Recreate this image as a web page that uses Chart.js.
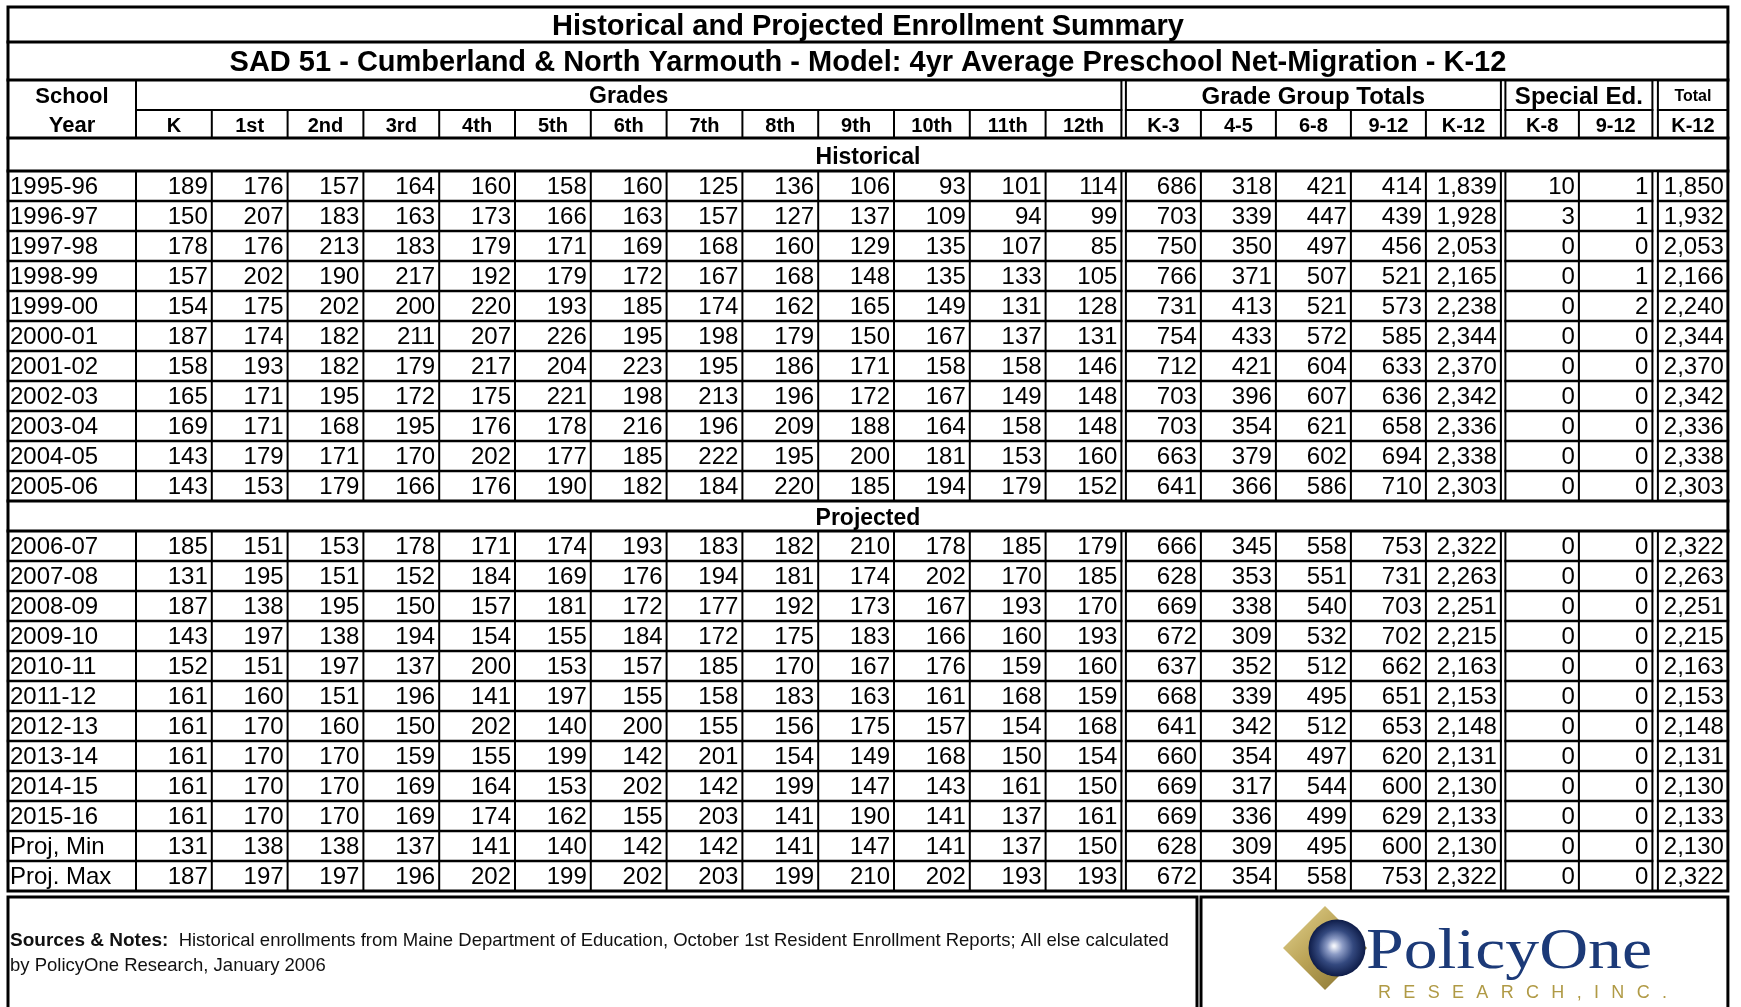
<!DOCTYPE html>
<html>
<head>
<meta charset="utf-8">
<title>Historical and Projected Enrollment Summary</title>
<script src="https://cdn.jsdelivr.net/npm/chart.js@4.4.1/dist/chart.umd.min.js"></script>
<style>
    html, body { margin: 0; padding: 0; background: #fff; }
    canvas { display: block; }
</style>
</head>
<body>
<canvas id="enrollmentTable" width="1741" height="1007" style="width:1741px;height:1007px"></canvas>
<script>
// ---- table text ----
const titleText = 'Historical and Projected Enrollment Summary';
const subtitleText = 'SAD 51 - Cumberland & North Yarmouth - Model: 4yr Average Preschool Net-Migration - K-12';
const gradeLabels = ['K', '1st', '2nd', '3rd', '4th', '5th', '6th', '7th', '8th', '9th', '10th', '11th', '12th'];
const groupLabels = ['K-3', '4-5', '6-8', '9-12', 'K-12'];
const specialLabels = ['K-8', '9-12'];
const totalLabels = ['K-12'];

// ---- historical ----
const historicalYears = ['1995-96', '1996-97', '1997-98', '1998-99', '1999-00', '2000-01',
    '2001-02', '2002-03', '2003-04', '2004-05', '2005-06'];
const historicalGrades = [
    [189, 176, 157, 164, 160, 158, 160, 125, 136, 106, 93, 101, 114],
    [150, 207, 183, 163, 173, 166, 163, 157, 127, 137, 109, 94, 99],
    [178, 176, 213, 183, 179, 171, 169, 168, 160, 129, 135, 107, 85],
    [157, 202, 190, 217, 192, 179, 172, 167, 168, 148, 135, 133, 105],
    [154, 175, 202, 200, 220, 193, 185, 174, 162, 165, 149, 131, 128],
    [187, 174, 182, 211, 207, 226, 195, 198, 179, 150, 167, 137, 131],
    [158, 193, 182, 179, 217, 204, 223, 195, 186, 171, 158, 158, 146],
    [165, 171, 195, 172, 175, 221, 198, 213, 196, 172, 167, 149, 148],
    [169, 171, 168, 195, 176, 178, 216, 196, 209, 188, 164, 158, 148],
    [143, 179, 171, 170, 202, 177, 185, 222, 195, 200, 181, 153, 160],
    [143, 153, 179, 166, 176, 190, 182, 184, 220, 185, 194, 179, 152]
];
const historicalGroups = [
    [686, 318, 421, 414, 1839],
    [703, 339, 447, 439, 1928],
    [750, 350, 497, 456, 2053],
    [766, 371, 507, 521, 2165],
    [731, 413, 521, 573, 2238],
    [754, 433, 572, 585, 2344],
    [712, 421, 604, 633, 2370],
    [703, 396, 607, 636, 2342],
    [703, 354, 621, 658, 2336],
    [663, 379, 602, 694, 2338],
    [641, 366, 586, 710, 2303]
];
const historicalSpecial = [[10, 1], [3, 1], [0, 0], [0, 1], [0, 2], [0, 0], [0, 0], [0, 0], [0, 0], [0, 0], [0, 0]];
const historicalTotal = [1850, 1932, 2053, 2166, 2240, 2344, 2370, 2342, 2336, 2338, 2303];

// ---- projected ----
const projectedYears = ['2006-07', '2007-08', '2008-09', '2009-10', '2010-11', '2011-12',
    '2012-13', '2013-14', '2014-15', '2015-16', 'Proj, Min', 'Proj. Max'];
const projectedGrades = [
    [185, 151, 153, 178, 171, 174, 193, 183, 182, 210, 178, 185, 179],
    [131, 195, 151, 152, 184, 169, 176, 194, 181, 174, 202, 170, 185],
    [187, 138, 195, 150, 157, 181, 172, 177, 192, 173, 167, 193, 170],
    [143, 197, 138, 194, 154, 155, 184, 172, 175, 183, 166, 160, 193],
    [152, 151, 197, 137, 200, 153, 157, 185, 170, 167, 176, 159, 160],
    [161, 160, 151, 196, 141, 197, 155, 158, 183, 163, 161, 168, 159],
    [161, 170, 160, 150, 202, 140, 200, 155, 156, 175, 157, 154, 168],
    [161, 170, 170, 159, 155, 199, 142, 201, 154, 149, 168, 150, 154],
    [161, 170, 170, 169, 164, 153, 202, 142, 199, 147, 143, 161, 150],
    [161, 170, 170, 169, 174, 162, 155, 203, 141, 190, 141, 137, 161],
    [131, 138, 138, 137, 141, 140, 142, 142, 141, 147, 141, 137, 150],
    [187, 197, 197, 196, 202, 199, 202, 203, 199, 210, 202, 193, 193]
];
const projectedGroups = [
    [666, 345, 558, 753, 2322],
    [628, 353, 551, 731, 2263],
    [669, 338, 540, 703, 2251],
    [672, 309, 532, 702, 2215],
    [637, 352, 512, 662, 2163],
    [668, 339, 495, 651, 2153],
    [641, 342, 512, 653, 2148],
    [660, 354, 497, 620, 2131],
    [669, 317, 544, 600, 2130],
    [669, 336, 499, 629, 2133],
    [628, 309, 495, 600, 2130],
    [672, 354, 558, 753, 2322]
];
const projectedSpecial = [[0, 0], [0, 0], [0, 0], [0, 0], [0, 0], [0, 0], [0, 0], [0, 0], [0, 0], [0, 0], [0, 0], [0, 0]];
const projectedTotal = [2322, 2263, 2251, 2215, 2163, 2153, 2148, 2131, 2130, 2133, 2130, 2322];

const notesLabel = 'Sources & Notes:';
const notesLine1 = 'Historical enrollments from Maine Department of Education, October 1st Resident Enrollment Reports; All else calculated';
const notesLine2 = 'by PolicyOne Research, January 2006';

// ---- layout (table units) ----
const yearColW = 128, gradeColW = 75.8, groupColW = 75, specialColW = 73.5, totalColW = 70;
const doubleGap = 4.5;
const titleH = 35, subtitleH = 38, head1H = 30, head2H = 28, sectionH = 33, rowH = 30;
const SANS = '"Liberation Sans", Arial, Helvetica, sans-serif';
const SERIF = '"Liberation Serif", "Times New Roman", serif';

// column edges
let columns = [];
let cur = yearColW;
let blocks = [];
function addBlock(labels, w) {
    let start = cur;
    labels.forEach(function (l) {
        columns.push({label: l, left: cur, right: cur + w});
        cur += w;
    });
    blocks.push({start: start, end: cur});
}
addBlock(gradeLabels, gradeColW);
cur += doubleGap;
addBlock(groupLabels, groupColW);
cur += doubleGap;
addBlock(specialLabels, specialColW);
cur += doubleGap + 1;
addBlock(totalLabels, totalColW);
const tableW = cur;

// row bands
const yTitle = 0;
const ySub = yTitle + titleH;
const yHead1 = ySub + subtitleH;
const yHead2 = yHead1 + head1H;
const yHist = yHead2 + head2H;
const yHistRows = yHist + sectionH;
const yProj = yHistRows + historicalYears.length * rowH;
const yProjRows = yProj + rowH;
const tableH = yProjRows + projectedYears.length * rowH;

function rowValues(grades, groups, special, total, i) {
    return grades[i].concat(groups[i], special[i], [total[i]]);
}

function drawTable(chart) {
    const ctx = chart.ctx;
    const xs = chart.scales.x, ys = chart.scales.y;
    const X = u => xs.getPixelForValue(u);
    const Y = v => ys.getPixelForValue(v);

    ctx.save();
    ctx.fillStyle = '#000';
    ctx.strokeStyle = '#000';
    ctx.textBaseline = 'middle';

    function text(s, u, v, align, font) {
        ctx.font = font;
        ctx.textAlign = align;
        ctx.fillText(s, X(u), Y(v));
    }

    // titles
    text(titleText, tableW / 2, yTitle + titleH / 2 + 2, 'center', 'bold 29px ' + SANS);
    text(subtitleText, tableW / 2, ySub + subtitleH / 2 + 2, 'center', 'bold 29px ' + SANS);

    // header row 1
    text('School', yearColW / 2, yHead1 + head1H / 2 + 2, 'center', 'bold 22px ' + SANS);
    text('Year', yearColW / 2, yHead2 + head2H / 2 + 2, 'center', 'bold 22px ' + SANS);
    const blockTitles = [['Grades', 'bold 23px '], ['Grade Group Totals', 'bold 24px '],
        ['Special Ed.', 'bold 24px '], ['Total', 'bold 16px ']];
    blocks.forEach(function (b, i) {
        text(blockTitles[i][0], (b.start + b.end) / 2, yHead1 + head1H / 2 + 2, 'center', blockTitles[i][1] + SANS);
    });
    // header row 2
    columns.forEach(function (c) {
        text(c.label, (c.left + c.right) / 2, yHead2 + head2H / 2 + 2, 'center', 'bold 20px ' + SANS);
    });

    // section rows
    text('Historical', tableW / 2, yHist + sectionH / 2 + 3, 'center', 'bold 23px ' + SANS);
    text('Projected', tableW / 2, yProj + rowH / 2 + 3, 'center', 'bold 23px ' + SANS);

    // data rows
    function drawRows(years, grades, groups, special, total, top) {
        years.forEach(function (yr, i) {
            const mid = top + i * rowH + rowH / 2 + 1;
            text(yr, 2, mid, 'left', '24px ' + SANS);
            rowValues(grades, groups, special, total, i).forEach(function (val, j) {
                text(val.toLocaleString('en-US'), columns[j].right - 4, mid, 'right', '24px ' + SANS);
            });
        });
    }
    drawRows(historicalYears, historicalGrades, historicalGroups, historicalSpecial, historicalTotal, yHistRows);
    drawRows(projectedYears, projectedGrades, projectedGroups, projectedSpecial, projectedTotal, yProjRows);

    // lines
    ctx.lineCap = 'square';
    function hLine(u0, u1, v, w) {
        ctx.lineWidth = w;
        ctx.beginPath();
        ctx.moveTo(X(u0), Y(v));
        ctx.lineTo(X(u1), Y(v));
        ctx.stroke();
    }
    function vLine(u, v0, v1, w) {
        ctx.lineWidth = w;
        ctx.beginPath();
        ctx.moveTo(X(u), Y(v0));
        ctx.lineTo(X(u), Y(v1));
        ctx.stroke();
    }

    [ySub, yHead1, yHist, yHistRows, yProj, yProjRows].forEach(v => hLine(0, tableW, v, 3));
    hLine(yearColW, tableW, yHead2, 2);
    for (let i = 1; i < historicalYears.length; i++) hLine(0, tableW, yHistRows + i * rowH, 2.5);
    for (let i = 1; i < projectedYears.length; i++) hLine(0, tableW, yProjRows + i * rowH, 2.5);

    const sections = [[yHead1, yHist], [yHistRows, yProj], [yProjRows, tableH]];
    sections.forEach(function (s, k) {
        vLine(yearColW, s[0], s[1], 2);
        const innerTop = k === 0 ? yHead2 : s[0];
        blocks.forEach(function (b) {
            columns.forEach(function (c) {
                if (c.left > b.start && c.left < b.end) vLine(c.left, innerTop, s[1], 2);
            });
        });
        // double rules between blocks
        for (let i = 0; i < blocks.length - 1; i++) {
            const a = blocks[i].end, b2 = blocks[i + 1].start;
            ctx.fillStyle = '#fff';
            ctx.fillRect(X(a) + 1, Y(s[0]) + 1.5, X(b2) - X(a) - 2, Y(s[1]) - Y(s[0]) - 3);
            ctx.fillStyle = '#000';
            vLine(a, s[0], s[1], 2);
            vLine(b2, s[0], s[1], 2);
        }
    });

    ctx.lineWidth = 3;
    ctx.strokeRect(X(0), Y(0), X(tableW) - X(0), Y(tableH) - Y(0));

    // notes box and logo box
    const area = chart.chartArea;
    const nTop = area.bottom + 6;
    const split = X(1189), logoLeft = X(1193);
    ctx.lineWidth = 3;
    ctx.strokeRect(X(0), nTop, split - X(0), 140);
    ctx.strokeRect(logoLeft, nTop, X(tableW) - logoLeft, 140);

    ctx.textAlign = 'left';
    ctx.fillStyle = '#111';
    ctx.font = 'bold 19px ' + SANS;
    ctx.fillText(notesLabel, X(2), nTop + 44);
    const lw = ctx.measureText(notesLabel).width;
    ctx.font = '18.5px ' + SANS;
    ctx.fillText(notesLine1, X(2) + lw + 2 * ctx.measureText(' ').width, nTop + 44);
    ctx.fillText(notesLine2, X(2), nTop + 69);

    drawLogo(ctx, logoLeft, nTop);
    ctx.restore();
}

function drawLogo(ctx, left, top) {
    // diamond
    const dx = left + 124, dy = top + 51, dr = 42;
    let g = ctx.createLinearGradient(dx - dr, dy - dr, dx + dr, dy + dr);
    g.addColorStop(0, '#e6d694');
    g.addColorStop(0.45, '#bba457');
    g.addColorStop(1, '#7d6a2a');
    ctx.fillStyle = g;
    ctx.beginPath();
    ctx.moveTo(dx, dy - dr);
    ctx.lineTo(dx + dr, dy);
    ctx.lineTo(dx, dy + dr);
    ctx.lineTo(dx - dr, dy);
    ctx.closePath();
    ctx.fill();

    // sphere
    const cx = left + 136, cy = top + 51, r = 28.5;
    g = ctx.createRadialGradient(cx - 3, cy - 2, 1, cx, cy, r);
    g.addColorStop(0, '#f2f4fa');
    g.addColorStop(0.25, '#8d9cc6');
    g.addColorStop(0.6, '#34497f');
    g.addColorStop(1, '#0e1c48');
    ctx.fillStyle = g;
    ctx.beginPath();
    ctx.arc(cx, cy, r, 0, Math.PI * 2);
    ctx.fill();

    // PolicyOne
    ctx.fillStyle = '#1c3a78';
    ctx.font = '56px ' + SERIF;
    ctx.textAlign = 'left';
    ctx.textBaseline = 'alphabetic';
    const word = 'PolicyOne';
    const ww = ctx.measureText(word).width;
    ctx.save();
    ctx.translate(left + 165, top + 71);
    ctx.scale(286 / ww, 1);
    ctx.fillText(word, 0, 0);
    ctx.restore();

    // RESEARCH,INC.
    ctx.fillStyle = '#b09a45';
    ctx.font = '18px ' + SANS;
    ctx.textBaseline = 'middle';
    const chars = 'RESEARCH,INC.'.split('');
    const base = chars.reduce((s, ch) => s + ctx.measureText(ch).width, 0);
    const gap = (289 - base) / (chars.length - 1);
    let x = left + 177;
    chars.forEach(function (ch) {
        ctx.fillText(ch, x, top + 96);
        x += ctx.measureText(ch).width + gap;
    });
}

const tablePlugin = {
    id: 'enrollmentTable',
    beforeDraw: function (chart) {
        const ctx = chart.ctx;
        ctx.save();
        ctx.fillStyle = '#fff';
        ctx.fillRect(0, 0, chart.width, chart.height);
        ctx.restore();
    },
    afterDraw: function (chart) {
        drawTable(chart);
    }
};

let tableCanvas = document.getElementById('enrollmentTable');
let enrollmentChart = new Chart(tableCanvas, {
    type: 'scatter',
    data: {datasets: []},
    options: {
        responsive: false,
        animation: false,
        events: [],
        layout: {padding: {left: 8, top: 7, right: 1741 - 8 - tableW, bottom: 1007 - 7 - tableH}},
        scales: {
            x: {type: 'linear', display: false, min: 0, max: tableW},
            y: {type: 'linear', display: false, min: 0, max: tableH, reverse: true}
        },
        plugins: {
            legend: {display: false},
            tooltip: {enabled: false}
        }
    },
    plugins: [tablePlugin]
});
</script>
</body>
</html>
